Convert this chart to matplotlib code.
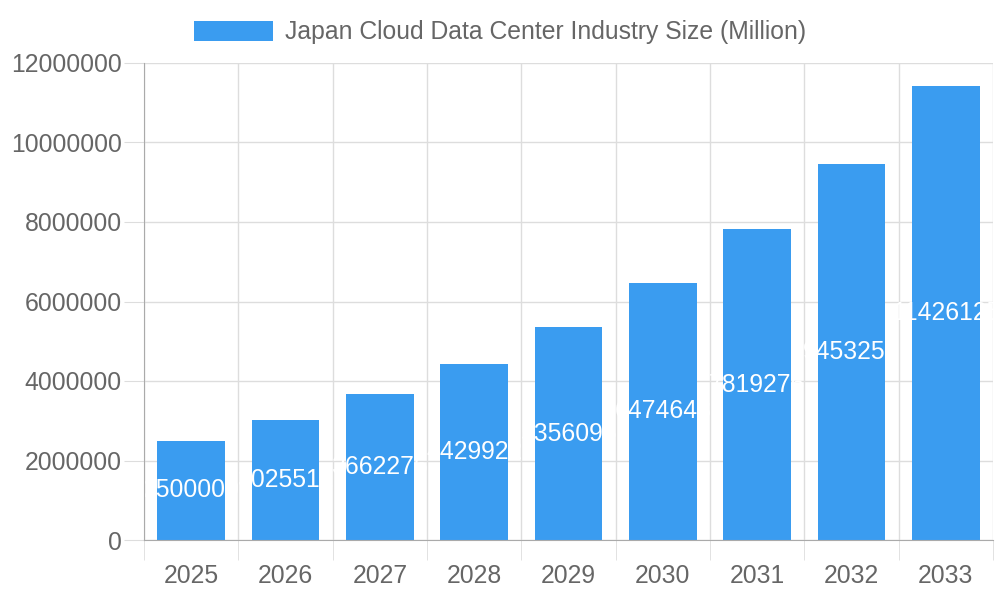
import matplotlib
matplotlib.use('Agg')
import matplotlib.pyplot as plt
import numpy as np

years = ['2025', '2026', '2027', '2028', '2029', '2030', '2031', '2032', '2033']
sizes = [2500000, 3025512, 3662276, 4429922, 5356096, 6474648, 7819276, 9453252, 11426125]
series_name = 'Japan Cloud Data Center Industry Size (Million)'

plt.rcParams['font.family'] = ['Liberation Sans', 'DejaVu Sans']
bar_color = '#3a9cf0'
grid_color = '#dddddd'
text_color = '#666666'
fs = 17.8

fig = plt.figure(figsize=(10, 6), dpi=100)
ax = fig.add_axes([0.144, 0.1, 0.849, 0.795])

x = np.arange(len(years))
ax.bar(x, sizes, width=0.72, color=bar_color, label=series_name, zorder=2)

for xi, v in zip(x, sizes):
    ax.text(xi, v / 2, str(v), ha='center', va='center', color='white', fontsize=fs, zorder=3)

ax.set_xlim(-0.5, len(years) - 0.5)
ax.set_ylim(0, 12000000)
ax.set_yticks(np.arange(0, 12000001, 2000000))
ax.set_yticklabels([str(int(t)) for t in np.arange(0, 12000001, 2000000)])
ax.set_xticks(x)
ax.set_xticklabels(years)
ax.set_xticks(np.arange(-0.5, len(years)), minor=True)

ax.grid(axis='y', color=grid_color, linewidth=1, zorder=0)
ax.grid(axis='x', which='minor', color=grid_color, linewidth=1, zorder=0)
ax.tick_params(axis='y', length=14.4, color=grid_color, labelcolor=text_color, labelsize=fs, pad=1.5)
ax.tick_params(axis='x', which='major', length=0, labelcolor=text_color, labelsize=fs, pad=17)
ax.tick_params(axis='x', which='minor', length=14.4, color=grid_color)
ax.xaxis.get_minor_ticks()[0].tick1line.set_color('#aaaaaa')

for s in ['top', 'right']:
    ax.spines[s].set_visible(False)
ax.spines['left'].set_color('#aaaaaa')
ax.spines['bottom'].set_color('#aaaaaa')
ax.spines['left'].set_zorder(4)
ax.spines['bottom'].set_zorder(4)

leg = fig.legend(loc='upper center', bbox_to_anchor=(0.5, 1.003), frameon=False,
                 fontsize=fs, handlelength=3.2, handleheight=0.92, handletextpad=0.48)
for t in leg.get_texts():
    t.set_color(text_color)

fig.savefig('out.png', dpi=100)
